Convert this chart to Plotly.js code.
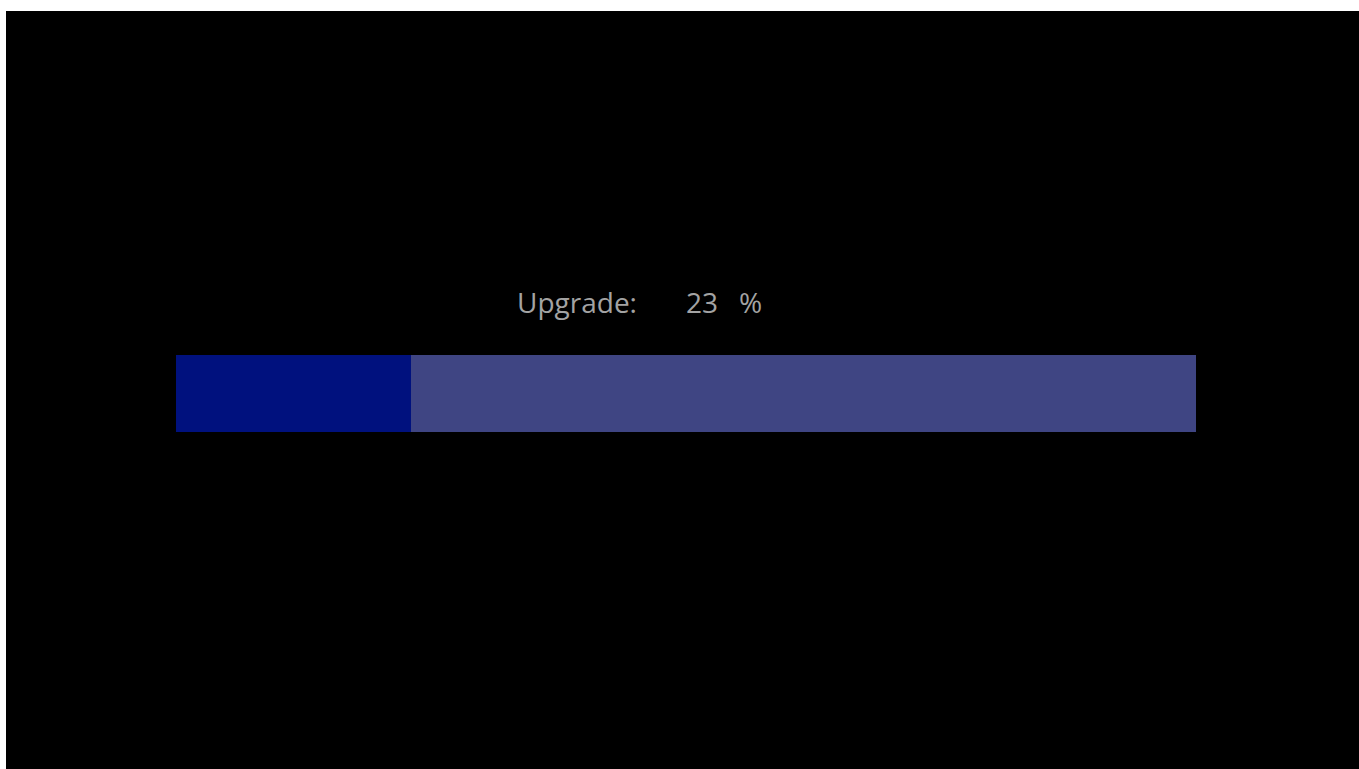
<!DOCTYPE html>
<html>
<head>
<meta charset="utf-8">
<script src="https://cdn.plot.ly/plotly-3.0.1.min.js"></script>
<style>
  html, body { margin: 0; padding: 0; background: #ffffff; width: 1359px; height: 769px; overflow: hidden; }
  #chart { position: absolute; left: 6px; top: 11px; width: 1353px; height: 758px; }
</style>
</head>
<body>
<div id="chart"></div>
<script>
const categories = ["Upgrade"];
const doneValues = [23];
const remainingValues = [77];
const labelText = "Upgrade:";
const unitText = "%";

const traces = [
  {
    type: "bar", orientation: "h",
    y: categories, x: doneValues,
    marker: { color: "#00117e", line: { width: 0 } },
    width: 1, hoverinfo: "skip"
  },
  {
    type: "bar", orientation: "h",
    y: categories, x: remainingValues,
    marker: { color: "#3f4583", line: { width: 0 } },
    width: 1, hoverinfo: "skip"
  }
];

const font = { family: "Open Sans, Noto Sans, sans-serif", size: 28, color: "#a3a3a3" };

const layout = {
  width: 1353, height: 758,
  paper_bgcolor: "#000000", plot_bgcolor: "#000000",
  barmode: "stack",
  showlegend: false,
  margin: { l: 170, r: 163, t: 344, b: 337, pad: 0 },
  xaxis: { range: [0, 100], visible: false, fixedrange: true },
  yaxis: { range: [-0.5, 0.5], visible: false, fixedrange: true },
  annotations: [
    { text: labelText, x: 33.2, xref: "x", xanchor: "left", y: 1, yref: "paper", yanchor: "bottom", yshift: 32, showarrow: false, font: font },
    { text: String(doneValues[0]), x: 49.8, xref: "x", xanchor: "left", y: 1, yref: "paper", yanchor: "bottom", yshift: 32, showarrow: false, font: font },
    { text: unitText, x: 55.0, xref: "x", xanchor: "left", y: 1, yref: "paper", yanchor: "bottom", yshift: 32, showarrow: false, font: font }
  ]
};

Plotly.newPlot("chart", traces, layout, { displayModeBar: false, staticPlot: true });
</script>
</body>
</html>
